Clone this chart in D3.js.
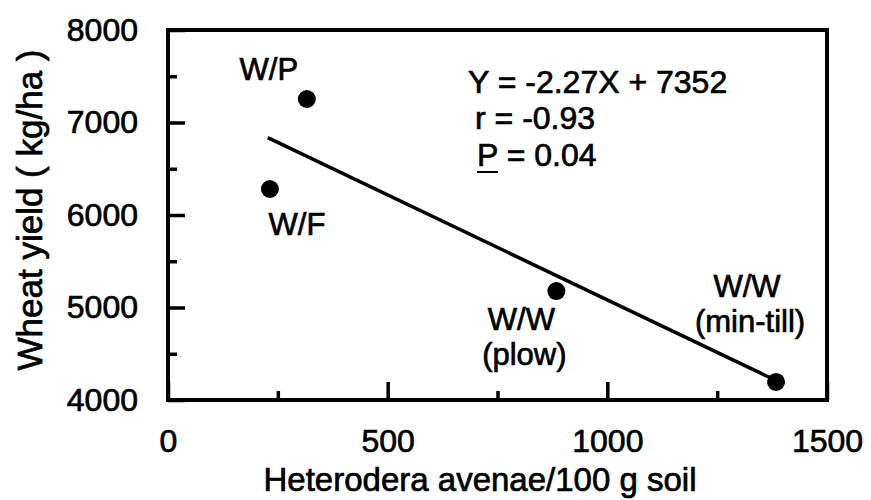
<!DOCTYPE html>
<html>
<head>
    <meta charset="utf-8">
    <title>Wheat yield vs Heterodera avenae</title>
    <script src="https://d3js.org/d3.v7.min.js"></script>
    <style>
        body { margin: 0; background: #fff; }
        text { font-family: "Liberation Sans", Arial, Helvetica, sans-serif; fill: #000; stroke: #000; stroke-width: 0.7px; }
    </style>
</head>
<body>
    <script>
        // Data
        const rotations = ["W/F", "W/P", "W/W", "W/W"];
        const subLabels = ["", "", "(plow)", "(min-till)"];
        const nematodes = [232, 316, 884, 1384];
        const yields = [6281, 7254, 5178, 4195];

        // Regression fit shown on the plot
        const slope = -2.27, intercept = 7352;
        const fitRange = [227, 1384];
        const statLines = ["Y = -2.27X + 7352", "r = -0.93", "P = 0.04"];

        const xMajor = [0, 500, 1000, 1500];
        const xMinor = [250, 750, 1250];
        const yMajor = [4000, 5000, 6000, 7000, 8000];
        const yMinor = [4500, 5500, 6500, 7500];

        const width = 871, height = 500;
        const plot = { left: 168, right: 827, top: 30, bottom: 400 };

        const svg = d3.select("body")
            .append("svg")
            .attr("width", width)
            .attr("height", height);

        const x = d3.scaleLinear().domain([0, 1500]).range([plot.left, plot.right]);
        const y = d3.scaleLinear().domain([4000, 8000]).range([plot.bottom, plot.top]);

        // Y axis ticks (inward) with labels
        const yAxis = svg.append("g")
            .attr("transform", `translate(${plot.left},0)`)
            .call(d3.axisLeft(y).tickValues(yMajor).tickFormat(d3.format("d"))
                .tickSizeInner(-17).tickSizeOuter(0).tickPadding(30));
        yAxis.select(".domain").remove();
        yAxis.selectAll("line").attr("stroke-width", 3.5);
        yAxis.selectAll("text").style("font-size", "32px");

        svg.append("g")
            .attr("transform", `translate(${plot.left},0)`)
            .call(d3.axisLeft(y).tickValues(yMinor).tickFormat("")
                .tickSizeInner(-9).tickSizeOuter(0))
            .call(g => g.select(".domain").remove())
            .selectAll("line").attr("stroke-width", 3.5);

        // X axis ticks (inward) with labels
        const xAxis = svg.append("g")
            .attr("transform", `translate(0,${plot.bottom})`)
            .call(d3.axisBottom(x).tickValues(xMajor).tickFormat(d3.format("d"))
                .tickSizeInner(-18).tickSizeOuter(0).tickPadding(29));
        xAxis.select(".domain").remove();
        xAxis.selectAll("line").attr("stroke-width", 3.5);
        xAxis.selectAll("text").style("font-size", "32px");

        svg.append("g")
            .attr("transform", `translate(0,${plot.bottom})`)
            .call(d3.axisBottom(x).tickValues(xMinor).tickFormat("")
                .tickSizeInner(-9).tickSizeOuter(0))
            .call(g => g.select(".domain").remove())
            .selectAll("line").attr("stroke-width", 3.5);

        // Frame
        svg.append("rect")
            .attr("x", plot.left)
            .attr("y", plot.top)
            .attr("width", plot.right - plot.left)
            .attr("height", plot.bottom - plot.top)
            .attr("fill", "none")
            .attr("stroke", "#000")
            .attr("stroke-width", 4);

        // Regression line
        svg.append("line")
            .attr("x1", x(fitRange[0]))
            .attr("y1", y(slope * fitRange[0] + intercept))
            .attr("x2", x(fitRange[1]))
            .attr("y2", y(slope * fitRange[1] + intercept))
            .attr("stroke", "#000")
            .attr("stroke-width", 3.5);

        // Points
        svg.selectAll(".pt")
            .data(nematodes)
            .enter()
            .append("circle")
            .attr("class", "pt")
            .attr("cx", d => x(d))
            .attr("cy", (d, i) => y(yields[i]))
            .attr("r", 9)
            .attr("fill", "#000");

        // Point labels (offsets from each point)
        const labelOffsets = [[27, 46], [-38, -19], [-35, 39], [-29, -85]];
        const labels = svg.selectAll(".lbl")
            .data(nematodes)
            .enter()
            .append("text")
            .attr("class", "lbl")
            .attr("text-anchor", "middle")
            .style("font-size", "31px")
            .attr("x", (d, i) => x(d) + labelOffsets[i][0])
            .attr("y", (d, i) => y(yields[i]) + labelOffsets[i][1]);
        labels.append("tspan").text((d, i) => rotations[i]);
        labels.append("tspan")
            .attr("x", (d, i) => x(d) + labelOffsets[i][0] + 3)
            .attr("dy", 35)
            .text((d, i) => subLabels[i]);

        // Statistics annotation
        const stats = svg.append("text").style("font-size", "32px");
        stats.append("tspan").attr("x", 468).attr("y", 93).text(statLines[0]);
        stats.append("tspan").attr("x", 475).attr("y", 129).text(statLines[1]);
        stats.append("tspan").attr("x", 477).attr("y", 166).text(statLines[2]);
        svg.append("line")
            .attr("x1", 477).attr("x2", 498)
            .attr("y1", 172).attr("y2", 172)
            .attr("stroke", "#000").attr("stroke-width", 2);

        // Axis titles
        svg.append("text")
            .attr("x", 480)
            .attr("y", 491)
            .attr("text-anchor", "middle")
            .style("font-size", "33px")
            .text("Heterodera avenae/100 g soil");

        svg.append("text")
            .attr("transform", "translate(42,210) rotate(-90)")
            .attr("text-anchor", "middle")
            .style("font-size", "35px")
            .text("Wheat yield ( kg/ha )");
    </script>
</body>
</html>
